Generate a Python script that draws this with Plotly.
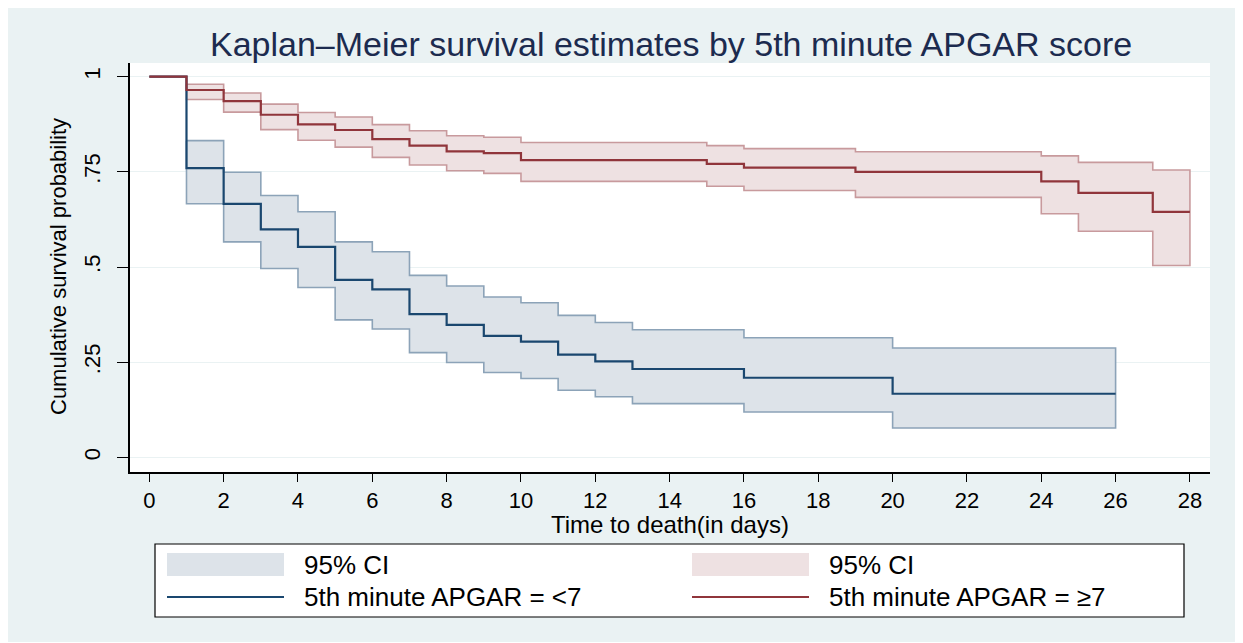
import plotly.graph_objects as go

# ---------------- data ----------------
# Group: 5th minute APGAR < 7
low_times = [0, 1, 2, 3, 4, 5, 6, 7, 8, 9, 10, 11, 12, 13, 16, 20]
low_end = 26
low_surv = [1.0, 0.760, 0.666, 0.599, 0.553, 0.466, 0.441, 0.376, 0.348, 0.319,
            0.304, 0.270, 0.252, 0.232, 0.209, 0.167]
low_upper = [None, 0.832, 0.749, 0.688, 0.645, 0.566, 0.540, 0.478, 0.450, 0.421,
             0.406, 0.373, 0.354, 0.335, 0.314, 0.287]
low_lower = [None, 0.666, 0.566, 0.496, 0.446, 0.361, 0.337, 0.275, 0.249, 0.223,
             0.207, 0.176, 0.159, 0.141, 0.119, 0.077]

# Group: 5th minute APGAR >= 7
high_times = [0, 1, 2, 3, 4, 5, 6, 7, 8, 9, 10, 15, 16, 19, 24, 25, 27]
high_end = 28
high_surv = [1.0, 0.965, 0.936, 0.900, 0.875, 0.860, 0.836, 0.819, 0.804, 0.799,
             0.781, 0.771, 0.761, 0.750, 0.725, 0.695, 0.645]
high_upper = [None, 0.980, 0.957, 0.928, 0.906, 0.894, 0.874, 0.858, 0.845, 0.841,
              0.827, 0.819, 0.811, 0.803, 0.792, 0.775, 0.755]
high_lower = [None, 0.940, 0.907, 0.861, 0.833, 0.815, 0.788, 0.768, 0.753, 0.746,
              0.725, 0.712, 0.701, 0.683, 0.640, 0.594, 0.504]

x_ticks = list(range(0, 29, 2))
y_ticks = [0, 0.25, 0.5, 0.75, 1]
y_tick_text = ["0", ".25", ".5", ".75", "1"]

title_text = "Kaplan\u2013Meier survival estimates by 5th minute APGAR score"
x_title = "Time to death(in days)"
y_title = "Cumulative survival probability"
legend_ci = "95% CI"
legend_low = "5th minute APGAR = <7"
legend_high = "5th minute APGAR = \u22657"

# ---------------- styling ----------------
FONT = "Liberation Sans, Arial, sans-serif"
BG = "#eaf2f3"
BLUE = "#1a476f"
BLUE_CI_LINE = "#8ca3b8"
BLUE_CI_FILL = "#dde3e9"
RED = "#90353b"
RED_CI_LINE = "#c89a9d"
RED_CI_FILL = "#eee1e2"
TITLE_COLOR = "#1c2b4f"

OFF = 8                 # page offset of the figure (body margin)
W, H = 1228, 634        # figure size
L, R, T, B = 130, 1210, 63, 472  # plot-area box in page pixels


def px(x):
    return (x - L) / (R - L)


def py(y):
    return (B - y) / (B - T)


def steps(times, vals, end):
    xs, ys = [], []
    for i, (t, v) in enumerate(zip(times, vals)):
        if v is None:
            continue
        t_next = times[i + 1] if i + 1 < len(times) else end
        xs += [t, t_next]
        ys += [v, v]
    return xs, ys


def band(times, lower, upper, end):
    xu, yu = steps(times, upper, end)
    xl, yl = steps(times, lower, end)
    return xu + xl[::-1] + [xu[0]], yu + yl[::-1] + [yu[0]]


fig = go.Figure()

for times, lo, up, end, fill, lc in [
    (low_times, low_lower, low_upper, low_end, BLUE_CI_FILL, BLUE_CI_LINE),
    (high_times, high_lower, high_upper, high_end, RED_CI_FILL, RED_CI_LINE),
]:
    bx, by = band(times, lo, up, end)
    fig.add_trace(go.Scatter(x=bx, y=by, mode="lines", fill="toself",
                             fillcolor=fill, line=dict(color=lc, width=1.6),
                             hoverinfo="skip", showlegend=False))

for times, surv, end, col in [
    (low_times, low_surv, low_end, BLUE),
    (high_times, high_surv, high_end, RED),
]:
    sx, sy = steps(times, surv, end)
    fig.add_trace(go.Scatter(x=sx, y=sy, mode="lines",
                             line=dict(color=col, width=2.2),
                             showlegend=False))

x0_data, x1_data = -0.52, 28.54
y0_data, y1_data = -0.0386, 1.036

LEG = 26
shapes = [
    # legend box
    dict(type="rect", xref="paper", yref="paper",
         x0=px(155), x1=px(1184), y0=py(617), y1=py(544),
         fillcolor="white", line=dict(color="black", width=1.2)),
    # legend swatches
    dict(type="rect", xref="paper", yref="paper",
         x0=px(167), x1=px(284), y0=py(576), y1=py(553),
         fillcolor=BLUE_CI_FILL, line=dict(width=0)),
    dict(type="rect", xref="paper", yref="paper",
         x0=px(692), x1=px(809), y0=py(576), y1=py(553),
         fillcolor=RED_CI_FILL, line=dict(width=0)),
    dict(type="line", xref="paper", yref="paper",
         x0=px(167), x1=px(284), y0=py(597), y1=py(597),
         line=dict(color=BLUE, width=2)),
    dict(type="line", xref="paper", yref="paper",
         x0=px(692), x1=px(809), y0=py(597), y1=py(597),
         line=dict(color=RED, width=2)),
]

annotations = [
    dict(text=legend_ci, xref="paper", yref="paper", x=px(302), y=py(565),
         xanchor="left", yanchor="middle", showarrow=False,
         font=dict(family=FONT, size=LEG, color="black")),
    dict(text=legend_ci, xref="paper", yref="paper", x=px(827), y=py(565),
         xanchor="left", yanchor="middle", showarrow=False,
         font=dict(family=FONT, size=LEG, color="black")),
    dict(text=legend_low, xref="paper", yref="paper", x=px(302), y=py(597),
         xanchor="left", yanchor="middle", showarrow=False,
         font=dict(family=FONT, size=LEG, color="black")),
    dict(text=legend_high, xref="paper", yref="paper", x=px(827), y=py(597),
         xanchor="left", yanchor="middle", showarrow=False,
         font=dict(family=FONT, size=LEG, color="black")),
    dict(text=title_text, xref="paper", yref="paper", x=px(671), y=py(44),
         xanchor="center", yanchor="middle", showarrow=False,
         font=dict(family=FONT, size=34, color=TITLE_COLOR)),
    dict(text=x_title, xref="paper", yref="paper", x=px(670), y=py(524),
         xanchor="center", yanchor="middle", showarrow=False,
         font=dict(family=FONT, size=24, color="black")),
    dict(text=y_title, xref="paper", yref="paper", x=px(58), y=py(267),
         xanchor="center", yanchor="middle", showarrow=False, textangle=-90,
         font=dict(family=FONT, size=22, color="black")),
]

fig.update_layout(
    width=W, height=H,
    margin=dict(l=L - OFF, r=W - (R - OFF), t=T - OFF, b=H - (B - OFF), pad=0),
    paper_bgcolor=BG,
    plot_bgcolor="white",
    font=dict(family=FONT, color="black"),
    shapes=shapes,
    annotations=annotations,
    showlegend=False,
    xaxis=dict(range=[x0_data, x1_data], tickmode="array", tickvals=x_ticks,
               ticks="outside", ticklen=8, tickwidth=1.3, tickcolor="black",
               showline=True, linecolor="black", linewidth=1.5,
               showgrid=False, zeroline=False, ticklabelstandoff=0,
               tickfont=dict(family=FONT, size=22, color="black")),
    yaxis=dict(range=[y0_data, y1_data], tickmode="array", tickvals=y_ticks,
               ticktext=y_tick_text, tickangle=-90,
               ticks="outside", ticklen=11, tickwidth=1.3, tickcolor="black",
               showline=True, linecolor="black", linewidth=1.5,
               showgrid=True, gridcolor=BG, gridwidth=1.3, zeroline=False,
               ticklabelstandoff=8,
               tickfont=dict(family=FONT, size=22, color="black")),
)

fig.write_html("out.html")
